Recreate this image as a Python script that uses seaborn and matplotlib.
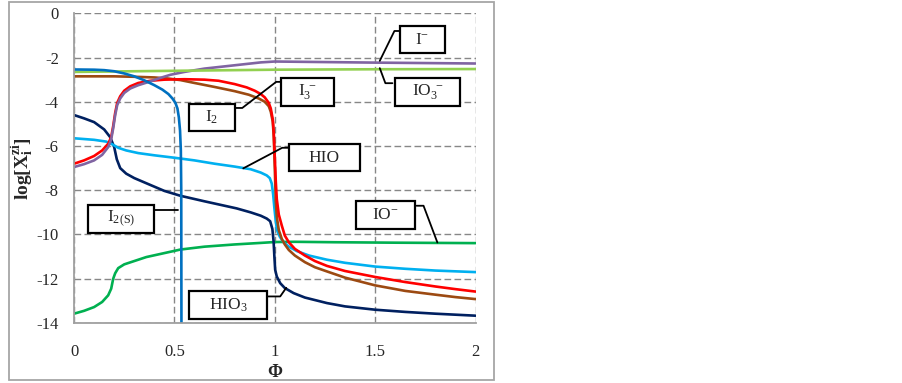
import numpy as np
import pandas as pd
import matplotlib
matplotlib.use("Agg")
import matplotlib.pyplot as plt
from matplotlib.patches import Rectangle
import seaborn as sns

# ---------------- data ----------------
series_names = ["IO-", "HIO3", "HIO", "I2", "I3-", "I-", "IO3-", "I2(S)"]

x_io = [0, 0.05, 0.1, 0.14, 0.17, 0.185, 0.195, 0.205, 0.22, 0.25, 0.3, 0.36, 0.44,
        0.53, 0.65, 0.8, 0.93, 1.0, 1.1, 1.3, 1.6, 2.0]
y_io = [-13.58, -13.45, -13.28, -13.05, -12.75, -12.45, -12.0, -11.75, -11.52, -11.35,
        -11.2, -11.02, -10.86, -10.68, -10.55, -10.45, -10.38, -10.34, -10.33, -10.35,
        -10.37, -10.39]

x_hio3 = [0, 0.05, 0.1, 0.15, 0.18, 0.2, 0.213, 0.23, 0.26, 0.3, 0.38, 0.45, 0.53, 0.65,
          0.75, 0.81, 0.88, 0.93, 0.96, 0.977, 0.988, 0.994, 0.998, 1.002, 1.01, 1.027,
          1.05, 1.094, 1.15, 1.26, 1.35, 1.5, 1.65, 1.8, 2.0]
y_hio3 = [-4.6, -4.75, -4.92, -5.25, -5.6, -6.05, -6.6, -7.0, -7.25, -7.45, -7.76, -8.03,
          -8.25, -8.5, -8.7, -8.82, -9.0, -9.15, -9.28, -9.4, -9.75, -10.3, -11.0, -11.6,
          -11.9, -12.2, -12.42, -12.65, -12.85, -13.1, -13.25, -13.4, -13.5, -13.58, -13.67]

x_hio = [0, 0.1, 0.16, 0.19, 0.22, 0.26, 0.32, 0.4, 0.5, 0.6, 0.7, 0.8, 0.88, 0.93, 0.96,
         0.975, 0.985, 0.992, 0.998, 1.005, 1.011, 1.025, 1.044, 1.07, 1.11, 1.17, 1.26,
         1.35, 1.5, 1.65, 1.8, 2.0]
y_hio = [-5.65, -5.72, -5.8, -5.92, -6.08, -6.2, -6.32, -6.42, -6.53, -6.65, -6.8, -6.93,
         -7.05, -7.2, -7.33, -7.45, -7.7, -8.2, -8.8, -9.4, -9.8, -10.1, -10.35, -10.55,
         -10.75, -10.95, -11.14, -11.28, -11.45, -11.55, -11.63, -11.7]

x_i2 = [0, 0.2, 0.3, 0.4, 0.47, 0.53, 0.6, 0.7, 0.8, 0.87, 0.92, 0.95, 0.97, 0.98, 0.99,
        0.995, 1.0, 1.005, 1.01, 1.02, 1.035, 1.05, 1.07, 1.1, 1.15, 1.2, 1.26, 1.35, 1.5,
        1.65, 1.8, 1.9, 2.0]
y_i2 = [-2.85, -2.85, -2.87, -2.9, -2.95, -3.02, -3.15, -3.33, -3.52, -3.68, -3.85, -4.0,
        -4.2, -4.45, -4.9, -5.6, -7.0, -8.5, -9.2, -9.8, -10.2, -10.45, -10.7, -10.95,
        -11.25, -11.48, -11.67, -11.95, -12.3, -12.55, -12.72, -12.83, -12.92]

x_i3 = [0, 0.05, 0.1, 0.14, 0.17, 0.185, 0.195, 0.205, 0.215, 0.23, 0.25, 0.28, 0.32,
        0.38, 0.45, 0.55, 0.65, 0.72, 0.8, 0.86, 0.9, 0.93, 0.95, 0.97, 0.98, 0.99, 0.995,
        1.0, 1.005, 1.01, 1.02, 1.035, 1.05, 1.07, 1.1, 1.15, 1.2, 1.26, 1.35, 1.5, 1.65,
        1.8, 1.9, 2.0]
y_i3 = [-6.8, -6.65, -6.45, -6.2, -5.9, -5.6, -5.1, -4.5, -4.05, -3.75, -3.5, -3.3, -3.15,
        -3.05, -3.0, -2.98, -3.0, -3.05, -3.2, -3.35, -3.5, -3.65, -3.8, -4.05, -4.3,
        -4.8, -5.4, -6.5, -7.6, -8.4, -9.1, -9.6, -10.05, -10.35, -10.65, -10.95, -11.2,
        -11.42, -11.65, -11.92, -12.15, -12.35, -12.47, -12.58]

x_im = [0, 0.05, 0.1, 0.14, 0.17, 0.185, 0.195, 0.205, 0.215, 0.23, 0.25, 0.28, 0.32,
        0.38, 0.43, 0.48, 0.55, 0.65, 0.75, 0.85, 0.93, 1.0, 1.2, 1.5, 2.0]
y_im = [-6.95, -6.82, -6.65, -6.4, -6.05, -5.7, -5.2, -4.6, -4.15, -3.85, -3.6, -3.4,
        -3.25, -3.08, -2.92, -2.78, -2.65, -2.5, -2.4, -2.3, -2.22, -2.18, -2.2, -2.23, -2.27]

x_io3 = [0, 0.5, 1.0, 1.5, 2.0]
y_io3 = [-2.65, -2.6, -2.55, -2.53, -2.52]

x_i2s = [0, 0.1, 0.15, 0.2, 0.25, 0.3, 0.35, 0.4, 0.44, 0.47, 0.49, 0.505, 0.515, 0.522,
         0.528, 0.532, 0.534, 0.535]
y_i2s = [-2.54, -2.55, -2.57, -2.62, -2.72, -2.85, -3.03, -3.25, -3.45, -3.65, -3.85,
         -4.05, -4.3, -4.7, -5.3, -6.2, -8.0, -14.0]

series_x = [x_io, x_hio3, x_hio, x_i2, x_i3, x_im, x_io3, x_i2s]
series_y = [y_io, y_hio3, y_hio, y_i2, y_i3, y_im, y_io3, y_i2s]

colors = {"IO-": "#00B050", "HIO3": "#002060", "HIO": "#00B0F0", "I2": "#9C4A12",
          "I3-": "#FF0000", "I-": "#8064A2", "IO3-": "#92D050", "I2(S)": "#0070C0"}

x_ticks = [0, 0.5, 1, 1.5, 2]
x_tick_labels = ["0", "0.5", "1", "1.5", "2"]
y_ticks = [-14, -12, -10, -8, -6, -4, -2, 0]
y_tick_labels = ["-14", "-12", "-10", "-8", "-6", "-4", "-2", "0"]

# annotation boxes: label, (x0, x1, y0, y1) in data units
box_labels = [r"$\mathrm{I^{-}}$", r"$\mathrm{IO_3^{\ -}}$", r"$\mathrm{I_3^{\ -}}$",
              r"$\mathrm{I_2}$", "HIO", r"$\mathrm{I_{2(S)}}$", r"$\mathrm{HIO_3}$",
              r"$\mathrm{IO^{-}}$"]
box_extents = [(1.622, 1.850, -1.81, -0.56), (1.598, 1.925, -4.19, -2.91),
               (1.032, 1.293, -4.19, -2.91), (0.575, 0.800, -5.30, -4.10),
               (1.069, 1.426, -7.15, -5.90), (0.071, 0.396, -9.91, -8.66),
               (0.574, 0.961, -13.81, -12.57), (1.406, 1.697, -9.74, -8.49)]
leaders = [
    ([1.621, 1.596, 1.523], [-0.80, -0.80, -2.15]),
    ([1.523, 1.551, 1.586], [-2.48, -3.16, -3.16]),
    ([0.803, 0.838, 1.007, 1.032], [-4.28, -4.28, -3.10, -3.10]),
    ([1.067, 1.037, 0.843], [-6.08, -6.08, -7.01]),
    ([0.404, 0.519], [-8.88, -8.88]),
    ([0.968, 1.027, 1.057], [-12.80, -12.80, -12.41]),
    ([1.706, 1.741, 1.810], [-8.70, -8.70, -10.36]),
]

# ---------------- plotting ----------------
rows = []
for name, xs, ys in zip(series_names, series_x, series_y):
    for i, (xv, yv) in enumerate(zip(xs, ys)):
        rows.append((name, i, xv, yv))
df = pd.DataFrame(rows, columns=["species", "idx", "phi", "logx"])

sns.set_style("white")
plt.rcParams["font.family"] = ["Liberation Serif", "DejaVu Serif"]
plt.rcParams["mathtext.fontset"] = "custom"
plt.rcParams["mathtext.rm"] = "Liberation Serif"
plt.rcParams["mathtext.it"] = "Liberation Serif:italic"
plt.rcParams["mathtext.bf"] = "Liberation Serif:bold"
plt.rcParams["axes.unicode_minus"] = False

fig = plt.figure(figsize=(9.03, 3.83), dpi=100)
ax = fig.add_axes([0.0820, 0.1567, 0.4446, 0.8086])

sns.lineplot(data=df, x="phi", y="logx", hue="species", hue_order=series_names,
             palette=colors, estimator=None, sort=False, units="species",
             legend=False, linewidth=1.9, ax=ax)

ax.set_xlim(0, 2)
ax.set_ylim(-14, 0)
ax.set_xticks(x_ticks)
ax.set_xticklabels(x_tick_labels)
ax.set_yticks(y_ticks)
ax.set_yticklabels(y_tick_labels)
ax.tick_params(axis="both", length=0, labelsize=12)
ax.tick_params(axis="y", pad=11)
ax.tick_params(axis="x", pad=15)

ax.grid(True, color="#878787", linewidth=1.0, linestyle=(0, (4.8, 2.4)))
ax.set_axisbelow(True)
for s in ["top", "right"]:
    ax.spines[s].set_visible(False)
for s in ["left", "bottom"]:
    ax.spines[s].set_color("#A0A0A0")
    ax.spines[s].set_linewidth(1.3)

ax.set_xlabel("Φ", fontsize=13, fontweight="bold", labelpad=3)
ax.set_ylabel(r"$\mathbf{log[X_i^{zi}]}$", fontsize=14, labelpad=0)

for lab, (x0, x1, y0, y1) in zip(box_labels, box_extents):
    ax.add_patch(Rectangle((x0, y0), x1 - x0, y1 - y0, facecolor="white",
                           edgecolor="black", linewidth=1.6, zorder=5, clip_on=False))
    ax.text((x0 + x1) / 2, (y0 + y1) / 2, lab, ha="center", va="center",
            fontsize=12.5, zorder=6)

for lx, ly in leaders:
    ax.plot(lx, ly, color="black", linewidth=1.3, zorder=4, clip_on=False)

# outer chart frame
fig.patches.append(Rectangle((0.00997, 0.0078), 0.537, 0.987, transform=fig.transFigure,
                             fill=False, edgecolor="#A6A6A6", linewidth=1.3))

fig.savefig("out.png", dpi=100)
